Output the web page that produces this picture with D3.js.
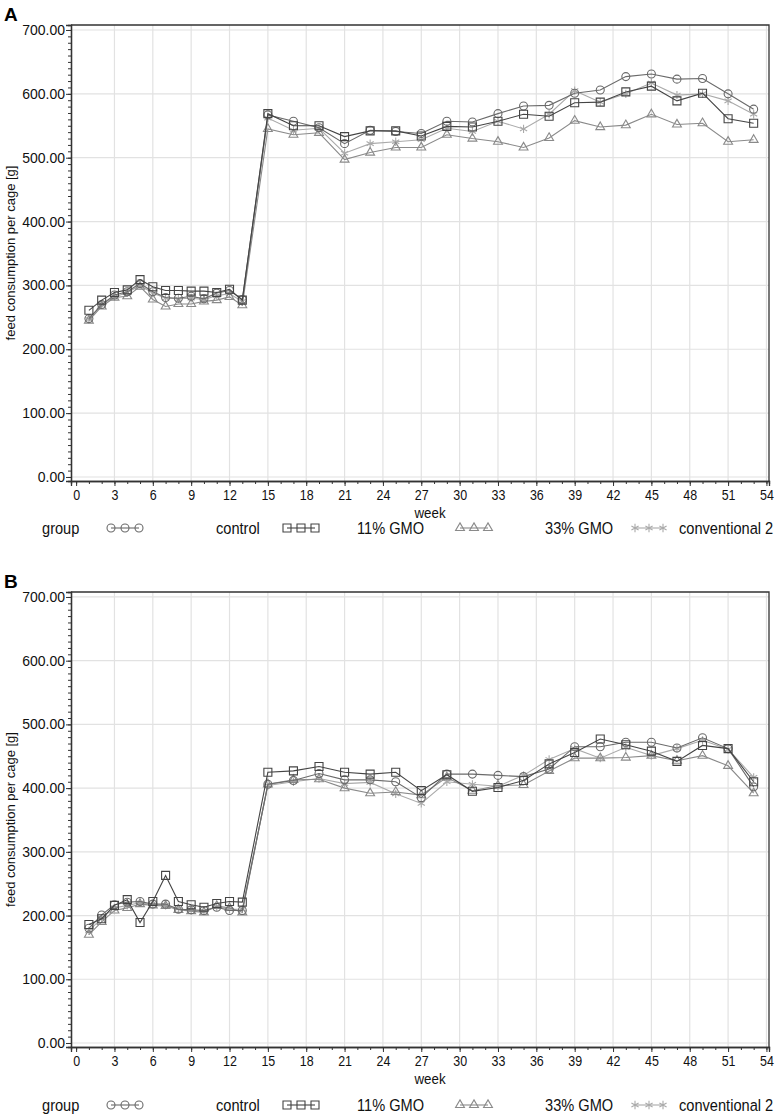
<!DOCTYPE html>
<html>
<head>
<meta charset="utf-8">
<script src="https://cdn.jsdelivr.net/npm/d3@7"></script>
<style>
  body { margin: 0; background: #fff; }
  svg { display: block; font-family: "Liberation Sans", Arial, sans-serif; }
</style>
</head>
<body>
<svg id="chart" width="777" height="1117"></svg>
<script>
// weeks with measurements
const weeks = [1, 2, 3, 4, 5, 6, 7, 8, 9, 10, 11, 12, 13,
    15, 17, 19, 21, 23, 25, 27, 29, 31, 33, 35, 37, 39, 41, 43, 45, 47, 49, 51, 53];

const groupNames = ['control', '11% GMO', '33% GMO', 'conventional 2'];

// panel A
const controlA = [248, 270, 285, 290, 303, 290, 281, 280, 283, 279, 288, 292, 278,
    567, 557, 547, 522, 543, 541, 538, 557, 556, 569, 581, 582, 601, 606, 627, 631, 623, 624, 600, 576];
const gmo11A = [261, 277, 289, 293, 309, 298, 292, 292, 291, 291, 289, 294, 277,
    569, 550, 550, 533, 542, 542, 534, 549, 548, 557, 568, 565, 586, 587, 603, 612, 589, 601, 561, 554];
const gmo33A = [245, 267, 281, 283, 298, 278, 267, 271, 271, 275, 277, 282, 269,
    545, 536, 539, 497, 508, 516, 516, 536, 530, 525, 516, 531, 558, 548, 551, 568, 552, 554, 525, 528];
const conv2A = [247, 270, 282, 289, 300, 288, 280, 279, 280, 278, 284, 287, 275,
    562, 543, 546, 507, 522, 525, 528, 546, 541, 557, 545, 568, 605, 587, 600, 617, 598, 600, 589, 568];

// panel B
const controlB = [180, 201, 217, 221, 222, 218, 218, 210, 209, 208, 213, 208, 208,
    406, 412, 423, 413, 413, 410, 385, 422, 422, 420, 418, 430, 465, 465, 472, 472, 463, 479, 462, 402];
const gmo11B = [186, 195, 216, 225, 189, 222, 263, 222, 217, 213, 219, 222, 221,
    425, 427, 434, 425, 422, 425, 396, 421, 395, 401, 412, 438, 456, 477, 468, 458, 442, 467, 462, 410];
const gmo33B = [170, 190, 208, 212, 218, 216, 215, 209, 207, 205, 215, 212, 205,
    406, 413, 414, 400, 392, 394, 389, 417, 396, 404, 405, 427, 447, 447, 448, 451, 443, 451, 435, 392];
const conv2B = [176, 196, 212, 216, 220, 217, 216, 211, 208, 207, 214, 210, 210,
    404, 410, 415, 407, 409, 391, 376, 410, 406, 403, 420, 445, 462, 447, 464, 451, 462, 475, 461, 417];

const yTicks = [0, 100, 200, 300, 400, 500, 600, 700];
const xTicks = [0, 3, 6, 9, 12, 15, 18, 21, 24, 27, 30, 33, 36, 39, 42, 45, 48, 51, 54];

const styles = {
    'control': {symbol: d3.symbolCircle, size: 50, color: '#6a6a6a'},
    '11% GMO': {symbol: d3.symbolSquare, size: 64, color: '#444444'},
    '33% GMO': {symbol: d3.symbolTriangle, size: 34, color: '#8a8a8a'},
    'conventional 2': {symbol: d3.symbolAsterisk, size: 48, color: '#aaaaaa'}
};
// draw order: lightest first, squares on top
const drawOrder = ['conventional 2', '33% GMO', 'control', '11% GMO'];

const svg = d3.select('#chart');

// condensed look for the axis/legend labels (no narrow font installed)
const squeeze = 'scale(0.86,1)';

function drawPanel(letter, top, bottom, legendGap, values) {
    const left = 71, right = 769;
    const x = d3.scaleLinear().domain([-0.4, 54.2]).range([left, right]);
    const y = d3.scaleLinear().domain([-6.3, 707.8]).range([bottom, top]);
    const g = svg.append('g');

    // grid
    g.append('g').selectAll('line').data(xTicks.slice(1)).enter().append('line')
        .attr('x1', d => x(d)).attr('x2', d => x(d))
        .attr('y1', top).attr('y2', bottom)
        .attr('stroke', '#e2e2e2').attr('stroke-width', 1.2);
    g.append('g').selectAll('line').data(yTicks).enter().append('line')
        .attr('x1', left).attr('x2', right)
        .attr('y1', d => y(d)).attr('y2', d => y(d))
        .attr('stroke', '#e2e2e2').attr('stroke-width', 1.2);

    // frame
    g.append('path')
        .attr('d', `M${left},${top}H${right}V${bottom}`)
        .attr('fill', 'none').attr('stroke', '#333').attr('stroke-width', 1.3);

    // y axis
    const yMinor = g.append('g').attr('transform', `translate(${left},0)`)
        .call(d3.axisLeft(y).tickValues(d3.range(0, 701, 10)).tickSize(3).tickFormat(''));
    const yAxis = g.append('g').attr('transform', `translate(${left},0)`)
        .call(d3.axisLeft(y).tickValues(yTicks).tickSize(5).tickFormat(d3.format('.2f')));
    yAxis.selectAll('text').attr('font-size', 14).attr('fill', '#111').attr('x', -6);

    // x axis
    const xMinor = g.append('g').attr('transform', `translate(0,${bottom})`)
        .call(d3.axisBottom(x).tickValues(d3.range(0, 55, 1)).tickSize(3).tickFormat(''));
    const xAxis = g.append('g').attr('transform', `translate(0,${bottom})`)
        .call(d3.axisBottom(x).tickValues(xTicks).tickSize(5));
    xAxis.selectAll('text').attr('font-size', 14.5).attr('fill', '#111')
        .attr('y', 9).attr('transform', squeeze);

    [yMinor, yAxis, xMinor, xAxis].forEach(a => {
        a.selectAll('.domain').attr('stroke', '#333').attr('stroke-width', 1.3);
        a.selectAll('.tick line').attr('stroke', '#333');
    });

    // titles
    svg.append('text').text(letter)
        .attr('x', 4).attr('y', top - 4)
        .attr('font-size', 19).attr('font-weight', 'bold').attr('fill', '#000');
    svg.append('text').text('week')
        .attr('transform', `translate(430,${bottom + 37}) ${squeeze}`)
        .attr('text-anchor', 'middle').attr('font-size', 15.5).attr('fill', '#111');
    svg.append('text').text('feed consumption per cage [g]')
        .attr('transform', `translate(15,${(top + bottom) / 2}) rotate(-90)`)
        .attr('text-anchor', 'middle').attr('font-size', 13).attr('fill', '#111');

    // lines and markers
    const line = d3.line().x(d => x(d.week)).y(d => y(d.value));
    drawOrder.forEach(name => {
        const st = styles[name];
        const pts = weeks.map((w, i) => ({week: w, value: values[name][i]}));
        const sg = g.append('g');
        sg.append('path').attr('d', line(pts))
            .attr('fill', 'none').attr('stroke', st.color).attr('stroke-width', 1.1);
        sg.selectAll('path.m').data(pts).enter().append('path').attr('class', 'm')
            .attr('d', d3.symbol(st.symbol, st.size))
            .attr('transform', d => `translate(${x(d.week)},${y(d.value)})`)
            .attr('fill', 'none').attr('stroke', st.color).attr('stroke-width', 1.1);
    });

    // legend
    const ly = bottom + legendGap;
    svg.append('text').text('group')
        .attr('transform', `translate(42,${ly + 6}) ${squeeze}`)
        .attr('font-size', 17).attr('fill', '#111');
    const legendX = [{sx: 111, tx: 216}, {sx: 287, tx: 357}, {sx: 460, tx: 545}, {sx: 635, tx: 679}];
    groupNames.forEach((name, i) => {
        const st = styles[name];
        const lg = svg.append('g');
        lg.append('line').attr('x1', legendX[i].sx).attr('x2', legendX[i].sx + 28)
            .attr('y1', ly).attr('y2', ly)
            .attr('stroke', st.color).attr('stroke-width', 1.1);
        [0, 14, 28].forEach(dx => {
            lg.append('path').attr('d', d3.symbol(st.symbol, st.size))
                .attr('transform', `translate(${legendX[i].sx + dx},${ly})`)
                .attr('fill', 'none').attr('stroke', st.color).attr('stroke-width', 1.1);
        });
        lg.append('text').text(name)
            .attr('transform', `translate(${legendX[i].tx},${ly + 6}) ${squeeze}`)
            .attr('font-size', 17).attr('fill', '#111');
    });
}

drawPanel('A', 25, 481, 47, {
    'control': controlA, '11% GMO': gmo11A, '33% GMO': gmo33A, 'conventional 2': conv2A
});
drawPanel('B', 592, 1047, 58, {
    'control': controlB, '11% GMO': gmo11B, '33% GMO': gmo33B, 'conventional 2': conv2B
});
</script>
</body>
</html>
